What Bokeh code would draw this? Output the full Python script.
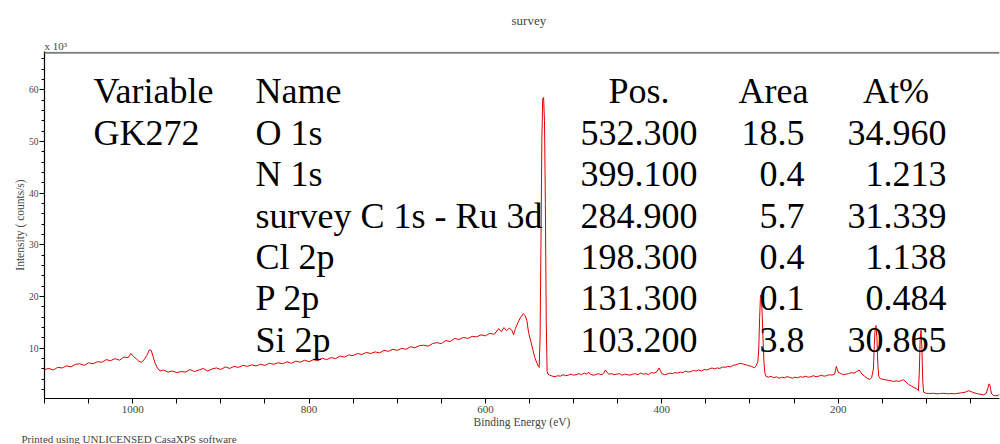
from bokeh.plotting import figure
from bokeh.models import (Range1d, LinearAxis, FixedTicker, ColumnDataSource, Span, Title)
from bokeh.core.properties import value
from bokeh.embed import file_html
from bokeh.resources import INLINE

# ---------------- data ----------------
binding_energy = [
    1100, 1095, 1090, 1085, 1080, 1075, 1070, 1065, 1060, 1055, 1050, 1045, 1040, 1035, 1030,
    1025, 1020, 1015, 1010, 1005, 1002, 999, 996, 993, 990, 987, 984, 981, 979, 977, 975, 972,
    969, 965, 960, 955, 950, 945, 940, 935, 930, 925, 920, 915, 910, 905, 900, 895, 890, 885,
    880, 875, 870, 865, 860, 855, 850, 845, 840, 835, 830, 825, 820, 815, 810, 805, 800, 795,
    790, 785, 780, 775, 770, 765, 760, 755, 750, 745, 740, 735, 730, 725, 720, 715, 710, 705,
    700, 695, 690, 685, 680, 675, 670, 665, 660, 655, 650, 645, 640, 635, 630, 625, 620, 615,
    610, 605, 600, 595, 590, 585, 582, 579, 576, 573, 570, 568, 566, 563, 560, 557, 555, 553,
    551, 548, 546, 544, 542, 540, 539, 538, 537, 536, 535, 534, 533, 532, 531, 530, 529, 527,
    524, 521, 518, 515, 512, 509, 506, 503, 500, 497, 494, 491, 488, 485, 483, 481, 478, 475,
    472, 469, 466, 464, 462, 460, 457, 454, 451, 448, 445, 442, 439, 436, 433, 430, 427, 424,
    421, 418, 415, 412, 409, 406, 403, 400, 397, 394, 391, 388, 385, 382, 379, 376, 373, 370,
    367, 364, 361, 358, 355, 352, 349, 346, 343, 340, 337, 334, 331, 328, 325, 322, 319, 316,
    313, 310, 307, 304, 301, 298, 295, 293, 291, 290, 289, 288, 287, 286, 285, 284, 283, 282,
    279, 276, 273, 270, 267, 264, 261, 258, 255, 252, 249, 246, 243, 240, 237, 234, 231, 228,
    225, 222, 219, 216, 213, 210, 207, 204, 202, 200, 197, 194, 191, 188, 185, 182, 179, 176,
    173, 170, 167, 164, 162, 160, 159, 158, 157, 156, 155, 154, 152, 149, 146, 143, 140, 137,
    134, 131, 128, 126, 123, 120, 117, 114, 111, 109, 108, 107, 106, 105, 104, 103, 100, 96,
    92, 88, 84, 80, 76, 72, 68, 64, 60, 56, 52, 49, 46, 42, 38, 35, 32, 30, 29, 28, 27, 26,
    24, 21, 17,
]
counts_k = [
    5.9, 6.1, 5.8, 6.3, 6.2, 6.6, 6.4, 6.9, 7.0, 6.7, 7.2, 7.0, 7.4, 7.3, 7.8,
    7.6, 8.0, 7.7, 8.3, 8.2, 9.0, 8.4, 8.0, 7.5, 7.3, 7.8, 8.6, 9.7, 9.6, 8.5, 7.3, 6.2,
    5.6, 5.8, 5.4, 5.6, 5.3, 5.5, 5.4, 5.9, 5.5, 5.8, 6.1, 5.6, 6.0, 6.2, 5.9, 6.4, 6.1, 6.5,
    6.3, 6.7, 6.5, 6.8, 6.6, 6.9, 6.7, 7.1, 6.9, 7.2, 7.0, 7.4, 7.1, 7.5, 7.3, 7.7, 7.4, 7.8,
    7.6, 8.1, 7.8, 8.2, 8.0, 8.5, 8.3, 8.7, 8.6, 9.0, 8.8, 9.2, 9.0, 9.3, 9.1, 9.6, 9.4, 9.8,
    9.6, 10.0, 9.8, 10.3, 10.1, 10.5, 10.6, 10.4, 10.9, 11.1, 10.9, 11.5, 11.3, 11.9, 11.7, 12.1, 11.9, 12.3,
    12.2, 12.6, 12.4, 12.9, 12.7, 13.8, 13.2, 14.0, 13.4, 13.9, 13.5, 12.6, 13.8, 15.0, 16.0, 16.7, 16.3, 15.4,
    13.0, 11.0, 9.6, 8.2, 7.3, 6.5, 6.3, 12.0, 30.0, 50.0, 58.3, 58.5, 54.0, 38.0, 15.0, 5.5, 5.0, 4.8,
    4.6, 4.5, 4.7, 4.6, 4.9, 4.7, 4.8, 5.0, 4.8, 4.9, 5.1, 4.9, 5.2, 5.0, 5.4, 5.0, 4.8, 4.9,
    5.1, 4.9, 5.1, 5.8, 5.3, 5.0, 5.1, 4.9, 5.0, 5.1, 4.8, 5.0, 4.9, 4.8, 5.0, 5.1, 4.9, 5.2,
    5.0, 5.1, 4.9, 5.3, 5.2, 5.4, 6.2, 5.1, 4.9, 5.0, 5.2, 5.1, 5.3, 5.2, 5.4, 5.3, 5.6, 5.4,
    5.5, 5.7, 5.6, 5.8, 5.6, 5.9, 5.8, 6.0, 6.2, 6.0, 6.2, 6.1, 6.4, 6.3, 6.5, 6.4, 6.7, 6.8,
    7.0, 7.1, 6.9, 6.8, 6.6, 6.5, 6.2, 6.6, 7.4, 10.0, 16.0, 20.3, 20.0, 16.0, 11.0, 7.0, 5.2, 4.6,
    4.4, 4.6, 4.3, 4.5, 4.2, 4.4, 4.3, 4.5, 4.4, 4.2, 4.4, 4.3, 4.5, 4.4, 4.6, 4.4, 4.5, 4.7,
    4.5, 4.6, 4.8, 4.6, 4.7, 4.9, 4.8, 5.0, 6.5, 5.4, 5.1, 4.9, 5.0, 5.1, 5.3, 5.2, 5.5, 5.8,
    5.0, 4.6, 4.2, 4.0, 4.3, 6.0, 10.5, 14.0, 14.4, 12.0, 7.0, 4.6, 4.1, 4.0, 3.9, 3.8, 3.7, 3.6,
    3.7, 3.6, 3.8, 3.9, 3.5, 3.0, 2.7, 2.4, 2.2, 1.8, 5.0, 11.5, 13.5, 10.0, 3.5, 1.5, 1.3, 1.25,
    1.3, 1.2, 1.25, 1.3, 1.2, 1.25, 1.2, 1.3, 1.4, 1.5, 1.8, 1.6, 1.4, 1.2, 1.1, 1.0, 1.3, 2.4, 3.1, 3.0, 2.0, 1.2,
    0.9, 0.8, 1.0,
]

table_headers = ["Variable", "Name", "Pos.", "Area", "At%"]
variable_name = "GK272"
peak_names = ["O 1s", "N 1s", "survey C 1s - Ru 3d", "Cl 2p", "P 2p", "Si 2p"]
peak_positions = [532.300, 399.100, 284.900, 198.300, 131.300, 103.200]
peak_areas = [18.5, 0.4, 5.7, 0.4, 0.1, 3.8]
peak_at_pct = [34.960, 1.213, 31.339, 1.138, 0.484, 30.865]

x_major_labels = [1000, 800, 600, 400, 200]
y_major_ticks = [10, 20, 30, 40, 50, 60]

# ---------------- layout ----------------
X0, X1 = 1100, 17
Y0, Y1 = 0.29, 67.39
FL, FR, FT, FB = 44, 999, 50, 398   # frame edges in page pixels


def dx(px):
    return X0 + (px - FL) * (X1 - X0) / (FR - FL)


def dy(py):
    return Y0 + (FB - py) * (Y1 - Y0) / (FB - FT)


SERIF = "Liberation Serif"

p = figure(width=1000, height=444, x_range=Range1d(X0, X1), y_range=Range1d(Y0, Y1),
           output_backend="svg", toolbar_location=None,
           min_border_left=FL, min_border_right=1000 - FR, min_border_top=FT,
           min_border_bottom=444 - FB,
           x_axis_location=None, y_axis_location=None)
p.outline_line_color = None
p.xgrid.visible = False
p.ygrid.visible = False
p.background_fill_color = "white"
p.border_fill_color = "white"

# title (outermost, above)
p.title.text = "survey"
p.title.align = "left"
p.title.offset = 528 - FL - 17
p.title.text_font = SERIF
p.title.text_font_size = "13px"
p.title.text_font_style = "normal"
p.title.vertical_align = "bottom"
p.title.standoff = 20

# "x 10^3" exponent just above the frame
p.add_layout(Title(text="x 10³", align="left", offset=0, standoff=0, vertical_align="bottom",
                   text_font=SERIF, text_font_size="11px", text_font_style="normal"), "above")

# bottom axis
xax = LinearAxis(axis_label="Binding Energy (eV)")
xt = list(range(1100, 0, -50))
xax.ticker = FixedTicker(ticks=xt)
xax.major_label_overrides = {t: ("" if t not in x_major_labels else str(t)) for t in xt}
xax.major_tick_in = 0
xax.major_tick_out = 5
xax.minor_tick_out = 0
xax.axis_line_color = "black"
xax.axis_line_width = 1.2
xax.major_tick_line_color = "black"
xax.major_label_text_font = SERIF
xax.major_label_text_font_size = "11px"
xax.major_label_standoff = 2
xax.axis_label_text_font = SERIF
xax.axis_label_text_font_size = "11.5px"
xax.axis_label_text_font_style = "normal"
xax.axis_label_standoff = 0
p.add_layout(xax, "below")

# footer
p.add_layout(Title(text="Printed using UNLICENSED CasaXPS software", align="left",
                   offset=21 - FL, standoff=0, vertical_align="bottom",
                   text_font=SERIF, text_font_size="11px", text_font_style="normal"), "below")

# left axis
yax = LinearAxis(axis_label="Intensity ( counts/s)")
yax.ticker = FixedTicker(ticks=y_major_ticks, minor_ticks=list(range(2, 68, 2)))
yax.major_tick_in = 0
yax.major_tick_out = 5
yax.minor_tick_in = 0
yax.minor_tick_out = 3
yax.axis_line_color = "black"
yax.axis_line_width = 1.2
yax.major_tick_line_color = "black"
yax.minor_tick_line_color = "black"
yax.major_label_text_font = SERIF
yax.major_label_text_font_size = "9.5px"
yax.major_label_standoff = 1
yax.axis_label_text_font = SERIF
yax.axis_label_text_font_size = "11.5px"
yax.axis_label_text_font_style = "normal"
yax.axis_label_standoff = 0
p.add_layout(yax, "left")

# gray top border line
p.add_layout(Span(location=dy(51.2), dimension="width", line_color="#808080", line_width=2))

# spectrum
p.line(binding_energy, counts_k, line_color="#e00000", line_width=1)

# table text
row_base = [90 + 41.5 * i for i in range(7)]
tx, ty, tt, ta = [], [], [], []
col_left = [93, 255]
col_center = [638.5, 773, 895.5]
col_right = [697, 804, 946]
for i, h in enumerate(table_headers):
    if i < 2:
        tx.append(dx(col_left[i])); ta.append("left")
    else:
        tx.append(dx(col_center[i - 2])); ta.append("center")
    ty.append(dy(row_base[0])); tt.append(h)
tx.append(dx(col_left[0])); ty.append(dy(row_base[1])); tt.append(variable_name); ta.append("left")
for r, (nm, pos, ar, at) in enumerate(zip(peak_names, peak_positions, peak_areas, peak_at_pct)):
    yb = dy(row_base[r + 1])
    tx.append(dx(col_left[1])); ty.append(yb); tt.append(nm); ta.append("left")
    for c, s in enumerate(["%.3f" % pos, "%.1f" % ar, "%.3f" % at]):
        tx.append(dx(col_right[c])); ty.append(yb); tt.append(s); ta.append("right")

src = ColumnDataSource(dict(x=tx, y=ty, t=tt, a=ta))
p.text(x="x", y="y", text="t", text_align="a", source=src, text_baseline="alphabetic",
       text_font=value(SERIF), text_font_size="36px", text_color="black")

open("out.html", "w").write(file_html(p, INLINE))
